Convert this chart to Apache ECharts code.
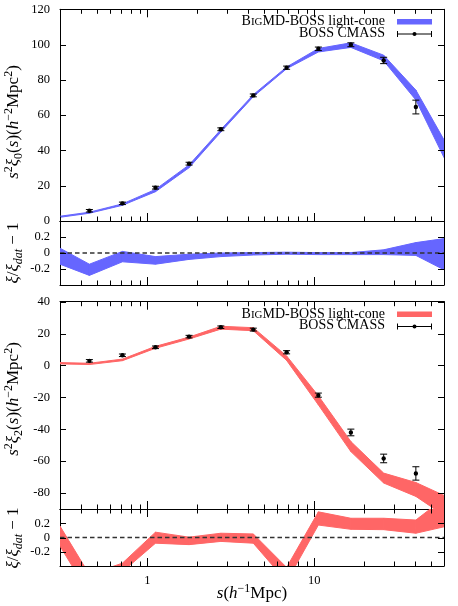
<!DOCTYPE html>
<html lang="en">
<head>
<meta charset="UTF-8">
<title>BigMD-BOSS light-cone vs BOSS CMASS multipoles</title>
<style>
  html, body { margin: 0; padding: 0; background: #fff; }
  #main { width: 458px; height: 606px; }
</style>
</head>
<body>
<div id="main"></div>
<script src="https://cdn.jsdelivr.net/npm/echarts@6/dist/echarts.min.js"></script>
<script>
// BOSS CMASS measurements, s in h^-1 Mpc
var sData = [0.45, 0.71, 1.12, 1.78, 2.76, 4.32, 6.84, 10.6, 16.6, 26.1, 40.7];
var mono = [5.8, 10.0, 18.9, 32.5, 52.0, 71.2, 86.9, 97.6, 99.9, 91.0, 64.6];
var monoErr = [0.7, 0.7, 0.8, 0.8, 0.8, 0.8, 0.9, 1.0, 1.1, 1.8, 3.9];
var quad = [2.9, 6.4, 11.4, 18.1, 24.0, 22.5, 8.3, -18.6, -42.0, -58.3, -67.7];
var quadErr = [0.8, 0.8, 0.8, 0.8, 0.8, 0.9, 1.0, 1.3, 2.1, 2.7, 4.2];

// BigMD-BOSS light-cone band (lower / upper)
var sModel = [0.3, 0.45, 0.71, 1.12, 1.78, 2.76, 4.32, 6.84, 10.6, 16.6, 26.1, 40.7, 60];
var monoLo = [2.1, 4.4, 8.9, 16.6, 30.2, 50.4, 70.5, 86.3, 95.8, 98.4, 90.8, 68.6, 36.0];
var monoHi = [2.7, 5.0, 9.7, 17.9, 31.8, 51.8, 71.6, 87.3, 97.8, 101.0, 94.0, 74.2, 46.0];
var quadLo = [1.0, 0.6, 3.0, 10.8, 16.6, 22.8, 21.8, 3.2, -24.7, -54.0, -73.7, -82.1, -94.0];
var quadHi = [1.8, 1.4, 4.0, 12.0, 17.8, 24.6, 23.7, 6.0, -19.0, -47.7, -67.5, -73.4, -81.5];

// xi / xi_dat - 1
var monoRatioLo = [-0.14, -0.28, -0.11, -0.14, -0.08, -0.045, -0.025, -0.015, -0.02, -0.02, -0.02, -0.03, -0.21];
var monoRatioHi = [0.06, -0.14, 0.02, -0.045, -0.015, 0.0, 0.005, 0.01, 0.005, 0.005, 0.04, 0.13, 0.18];
var quadRatioLo = [-0.12, -0.8, -0.48, -0.08, -0.10, -0.055, -0.08, -0.62, 0.175, 0.115, 0.11, 0.06, 0.15];
var quadRatioHi = [0.16, -0.52, -0.36, 0.075, 0.005, 0.06, 0.05, -0.42, 0.36, 0.27, 0.27, 0.245, 0.55];

// axis ticks
var xMinor = [0.3, 0.4, 0.5, 0.6, 0.7, 0.8, 0.9, 2, 3, 4, 5, 6, 7, 8, 9, 20, 30, 40, 50, 60];
var xMajor = [1, 10];
var xLabels = [1, 10];
var yTicksMono = [0, 20, 40, 60, 80, 100, 120];
var yTicksQuad = [-80, -60, -40, -20, 0, 20, 40];
var yTicksRatio = [-0.2, 0, 0.2];

var BLUE = '#6666ff';
var RED = '#ff6666';
var FONT = 'Liberation Serif';

var myChart = echarts.init(document.getElementById('main'));

var grids = [
  {left: 60, width: 384, top: 9.3, height: 211.7},
  {left: 60, width: 384, top: 221, height: 64},
  {left: 60, width: 384, top: 301.7, height: 207.3},
  {left: 60, width: 384, top: 509, height: 57}
];
var yRanges = [
  {min: 0, max: 120, ticks: yTicksMono},
  {min: -0.4, max: 0.4, ticks: yTicksRatio},
  {min: -90, max: 40, ticks: yTicksQuad},
  {min: -0.4, max: 0.4, ticks: yTicksRatio}
];
var topTicks = [true, false, true, true];

var xAxes = [];
var yAxes = [];
grids.forEach(function (g, gi) {
  [['bottom', gi === 3], ['top', false]].forEach(function (p) {
    xAxes.push({
      type: 'log', logBase: 10, gridIndex: gi, position: p[0], min: 0.3, max: 60,
      axisLine: {show: true, onZero: false, lineStyle: {color: '#000', width: 1}},
      axisTick: {show: false},
      axisLabel: p[1] ? {show: true, customValues: xLabels, margin: 8, color: '#000',
                         fontFamily: FONT, fontSize: 12.5} : {show: false},
      splitLine: {show: false}
    });
  });
  var r = yRanges[gi];
  ['left', 'right'].forEach(function (pos) {
    yAxes.push({
      type: 'value', gridIndex: gi, position: pos, min: r.min, max: r.max,
      axisLine: {show: true, onZero: false, lineStyle: {color: '#000', width: 1}},
      axisTick: {show: false},
      axisLabel: pos === 'left' ? {show: true, customValues: r.ticks, margin: 10, color: '#000',
                                   fontFamily: FONT, fontSize: 12.5} : {show: false},
      splitLine: {show: false}
    });
  });
});

// gnuplot style inward ticks on all four sides, placed through the axes
function tickSeries(gi) {
  var r = yRanges[gi];
  return {
    type: 'custom', xAxisIndex: gi * 2, yAxisIndex: gi * 2, z: 6, silent: true, clip: false,
    data: [[1, r.min]],
    renderItem: function (params, api) {
      var cs = params.coordSys;
      var top = cs.y, bot = cs.y + cs.height, left = cs.x, right = cs.x + cs.width;
      var ls = {stroke: '#000', lineWidth: 1};
      var ch = [];
      function xt(vals, len) {
        vals.forEach(function (v) {
          var x = Math.round(api.coord([v, r.min])[0]) + 0.5;
          ch.push({type: 'line', shape: {x1: x, y1: bot, x2: x, y2: bot - len}, style: ls});
          if (topTicks[gi]) ch.push({type: 'line', shape: {x1: x, y1: top, x2: x, y2: top + len}, style: ls});
        });
      }
      xt(xMinor, 4.5);
      xt(xMajor, 8);
      r.ticks.forEach(function (v) {
        var y = Math.round(api.coord([1, v])[1]) + 0.5;
        ch.push({type: 'line', shape: {x1: left, y1: y, x2: left + 6, y2: y}, style: ls});
        ch.push({type: 'line', shape: {x1: right - 6, y1: y, x2: right, y2: y}, style: ls});
      });
      return {type: 'group', children: ch};
    }
  };
}

function bandSeries(gi, lo, hi, color) {
  return {
    type: 'custom', xAxisIndex: gi * 2, yAxisIndex: gi * 2, clip: true, z: 2,
    encode: {x: 0, y: [1, 2]},
    data: sModel.map(function (s, i) { return [s, lo[i], hi[i]]; }),
    renderItem: function (params, api) {
      var i = params.dataIndex;
      if (i >= sModel.length - 1) return null;
      var pts = [
        api.coord([sModel[i], hi[i]]),
        api.coord([sModel[i + 1], hi[i + 1]]),
        api.coord([sModel[i + 1], lo[i + 1]]),
        api.coord([sModel[i], lo[i]])
      ];
      return {type: 'polygon', shape: {points: pts},
              style: {fill: color, stroke: color, lineWidth: 1}};
    }
  };
}

function errSeries(gi, vals, errs) {
  return {
    type: 'custom', xAxisIndex: gi * 2, yAxisIndex: gi * 2, clip: true, z: 5,
    encode: {x: 0, y: 1},
    data: sData.map(function (s, i) { return [s, vals[i], errs[i]]; }),
    renderItem: function (params, api) {
      var s = api.value(0), v = api.value(1), e = api.value(2);
      var c = api.coord([s, v]);
      var t = api.coord([s, v + e]);
      var b = api.coord([s, v - e]);
      var w = 3.5;
      var ls = {stroke: '#000', lineWidth: 1};
      return {type: 'group', children: [
        {type: 'line', shape: {x1: c[0], y1: t[1], x2: c[0], y2: b[1]}, style: ls},
        {type: 'line', shape: {x1: c[0] - w, y1: t[1], x2: c[0] + w, y2: t[1]}, style: ls},
        {type: 'line', shape: {x1: c[0] - w, y1: b[1], x2: c[0] + w, y2: b[1]}, style: ls},
        {type: 'circle', shape: {cx: c[0], cy: c[1], r: 2.2}, style: {fill: '#000'}}
      ]};
    }
  };
}

function zeroSeries(gi) {
  return {
    type: 'line', xAxisIndex: gi * 2, yAxisIndex: gi * 2, z: 4,
    symbol: 'none', silent: true,
    data: [[0.3, 0], [60, 0]],
    lineStyle: {color: '#333', width: 1.3, type: [4.5, 3]}
  };
}

function rich(size) {
  var sm = Math.round(size * 0.68);
  var lh = size + 5;
  var scs = Math.round(size * 0.75);
  return {
    r: {fontFamily: FONT, fontSize: size, lineHeight: lh, verticalAlign: 'middle', color: '#000'},
    i: {fontFamily: FONT, fontSize: size, lineHeight: lh, verticalAlign: 'middle', fontStyle: 'italic', color: '#000'},
    sup: {fontFamily: FONT, fontSize: sm, lineHeight: sm, verticalAlign: 'top', color: '#000'},
    sub: {fontFamily: FONT, fontSize: sm, lineHeight: sm, verticalAlign: 'bottom', color: '#000'},
    subi: {fontFamily: FONT, fontSize: sm, lineHeight: sm, verticalAlign: 'bottom', fontStyle: 'italic', color: '#000'},
    sc: {fontFamily: FONT, fontSize: scs, lineHeight: lh, verticalAlign: 'middle', color: '#000',
         padding: [0, 0, -2, 0]}
  };
}

function rotTitle(x, y, text) {
  return {type: 'text', x: x, y: y, rotation: Math.PI / 2, z: 10,
          style: {text: text, rich: rich(17), align: 'center', verticalAlign: 'middle'}};
}

function legend(y0, color) {
  var ls = {stroke: '#000', lineWidth: 1};
  return [
    {type: 'text', x: 385, y: y0, z: 10,
     style: {text: '{r|B}{sc|IG}{r|MD-BOSS light-cone}', rich: rich(14), align: 'right', verticalAlign: 'middle'}},
    {type: 'rect', shape: {x: 397, y: y0 - 2.5, width: 35, height: 5.5}, style: {fill: color}, z: 10},
    {type: 'text', x: 385, y: y0 + 11.5, z: 10,
     style: {text: '{r|BOSS CMASS}', rich: rich(14), align: 'right', verticalAlign: 'middle'}},
    {type: 'line', shape: {x1: 397, y1: y0 + 12.5, x2: 432, y2: y0 + 12.5}, style: ls, z: 10},
    {type: 'line', shape: {x1: 397.5, y1: y0 + 9.5, x2: 397.5, y2: y0 + 15.5}, style: ls, z: 10},
    {type: 'line', shape: {x1: 431.5, y1: y0 + 9.5, x2: 431.5, y2: y0 + 15.5}, style: ls, z: 10},
    {type: 'circle', shape: {cx: 414.5, cy: y0 + 12.5, r: 2}, style: {fill: '#000'}, z: 10}
  ];
}

var graphics = []
  .concat(legend(21.5, BLUE))
  .concat(legend(314, RED))
  .concat([
    rotTitle(14, 122, '{i|s}{sup|2}{i|ξ}{sub|0}{r|(}{i|s}{r|)(}{i|h}{sup|−2}{r|Mpc}{sup|2}{r|)}'),
    rotTitle(14, 253, '{i|ξ}{r|/}{i|ξ}{subi|dat}{r| − 1}'),
    rotTitle(14, 399, '{i|s}{sup|2}{i|ξ}{sub|2}{r|(}{i|s}{r|)(}{i|h}{sup|−2}{r|Mpc}{sup|2}{r|)}'),
    rotTitle(14, 538, '{i|ξ}{r|/}{i|ξ}{subi|dat}{r| − 1}'),
    {type: 'text', x: 252, y: 594, z: 10,
     style: {text: '{i|s}{r|(}{i|h}{sup|−1}{r|Mpc)}', rich: rich(17), align: 'center', verticalAlign: 'middle'}}
  ]);

var option = {
  animation: false,
  backgroundColor: '#fff',
  grid: grids,
  xAxis: xAxes,
  yAxis: yAxes,
  graphic: graphics,
  series: [
    bandSeries(0, monoLo, monoHi, BLUE),
    errSeries(0, mono, monoErr),
    tickSeries(0),
    bandSeries(1, monoRatioLo, monoRatioHi, BLUE),
    zeroSeries(1),
    tickSeries(1),
    bandSeries(2, quadLo, quadHi, RED),
    errSeries(2, quad, quadErr),
    tickSeries(2),
    bandSeries(3, quadRatioLo, quadRatioHi, RED),
    zeroSeries(3),
    tickSeries(3)
  ]
};
myChart.setOption(option);
</script>
</body>
</html>
